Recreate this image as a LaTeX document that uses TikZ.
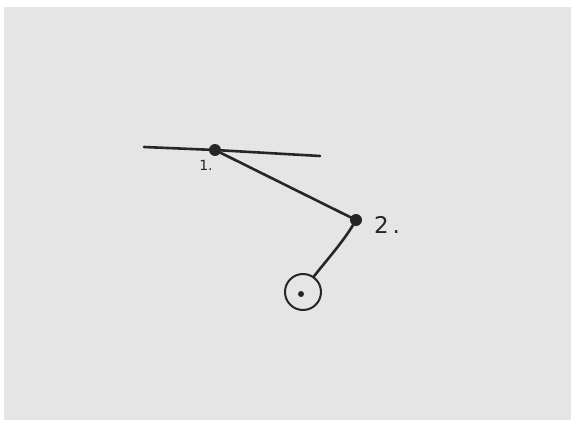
\documentclass[tikz,border=0pt]{standalone}
\usepackage{fontspec}
\setmainfont{DejaVu Sans}
\begin{document}
\begin{tikzpicture}[x=1pt,y=-1pt,
  stroke/.style={line width=2.6pt, draw=black!85, line cap=round},
  joint/.style={circle, fill=black!85, inner sep=0pt, minimum size=12pt},
  lbl/.style={font=\fontsize{#1}{#1}\selectfont, text=black!85, inner sep=0pt}]
\useasboundingbox (0,0) rectangle (574,423);
\fill[white] (0,0) rectangle (574,423);
\fill[black!10] (4,7) rectangle (571,420);
% nodes
\coordinate (lineL) at (144,147);
\coordinate (lineR) at (320,156);
\node[joint] (p1) at (215,150) {};
\node[joint] (p2) at (356,220) {};
\node[circle, draw=black!85, line width=2pt, minimum size=36pt, inner sep=0pt] (wheel) at (303,292) {};
\node[circle, fill=black!85, inner sep=0pt, minimum size=6pt] (hub) at (301,294) {};
\node[lbl=14] (l1) at (206,165) {1.};
\node[lbl=23] (l2) at (387,225) {2\,.};
% connectors
\draw[stroke] (lineL) -- (p1.center) -- (lineR);
\draw[stroke] (p1.center) -- (p2.center);
\draw[stroke] (p2.center) .. controls (345,240) and (325,262) .. (wheel.55);
\end{tikzpicture}
\end{document}
